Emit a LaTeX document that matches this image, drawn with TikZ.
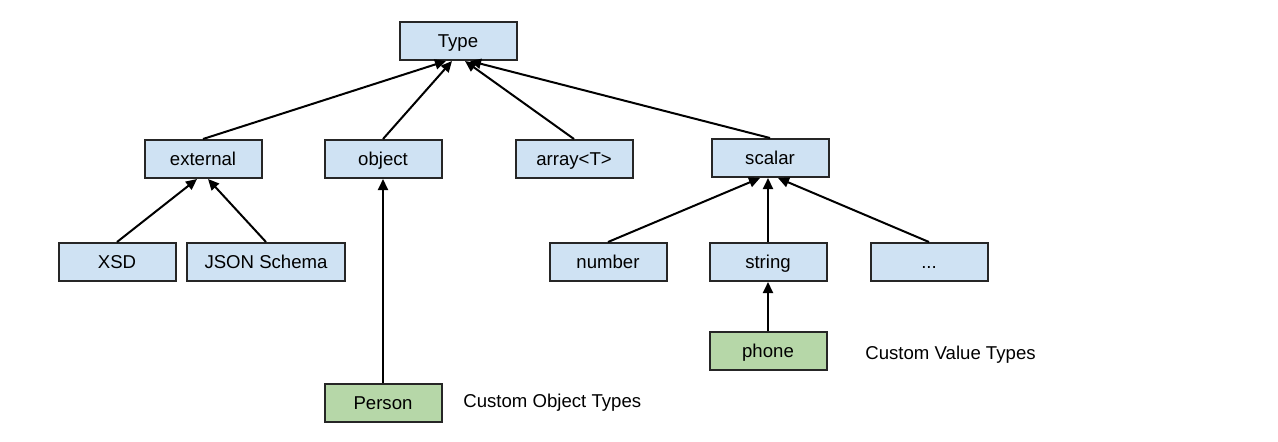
\documentclass[tikz,border=0pt]{standalone}
\usepackage{fontspec}
\setmainfont{Liberation Sans}
\usepackage{tikz}
\usetikzlibrary{arrows.meta}
\definecolor{boxblue}{HTML}{CFE2F3}
\definecolor{boxgreen}{HTML}{B6D7A8}
\tikzset{
  tbox/.style={draw=black!85, line width=1pt, fill=boxblue, minimum width=58.5pt,
    minimum height=19pt, inner sep=0pt, text height=7.4pt, text depth=1pt,
    font=\fontsize{9.3}{11}\selectfont},
  cbox/.style={tbox, fill=boxgreen},
  note/.style={anchor=west, inner sep=0pt, font=\fontsize{9.3}{11}\selectfont},
  isa/.style={line width=1pt, -{Triangle[length=5.5pt,width=5pt]}}
}

\begin{document}
\begin{tikzpicture}[x=0.5pt, y=-0.5pt]
        \useasboundingbox (0,0) rectangle (1278,441);
        % root
        \node[tbox] (type) at (458,41) {Type};
        % row 2
        \node[tbox] (external) at (203,159) {external};
        \node[tbox] (object) at (383,159) {object};
        \node[tbox] (array) at (574,159) {array<T>};
        \node[tbox] (scalar) at (770,158) {scalar};
        % row 3
        \node[tbox] (xsd) at (117,262) {XSD};
        \node[tbox, minimum width=79pt] (jsonschema) at (266,262) {JSON Schema};
        \node[tbox] (number) at (608,262) {number};
        \node[tbox] (string) at (768,262) {string};
        \node[tbox] (more) at (929,262) {...};
        % custom types
        \node[cbox] (phone) at (768,351) {phone};
        \node[cbox] (person) at (383,403) {Person};
        \node[note] (valuenote) at (865,355) {Custom Value Types};
        \node[note] (objectnote) at (463,403) {Custom Object Types};
        % edges
        \draw[isa] (external.north) -- ([xshift=-6pt]type.south);
        \draw[isa] (object.north) -- ([xshift=-3pt]type.south);
        \draw[isa] (array.north) -- ([xshift=3.5pt]type.south);
        \draw[isa] (scalar.north) -- ([xshift=6pt]type.south);
        \draw[isa] (xsd.north) -- ([xshift=-3pt]external.south);
        \draw[isa] (jsonschema.north) -- ([xshift=2.5pt]external.south);
        \draw[isa] (number.north) -- ([xshift=-5pt]scalar.south);
        \draw[isa] (string.north) -- (string.north |- scalar.south);
        \draw[isa] (more.north) -- ([xshift=4pt]scalar.south);
        \draw[isa] (person.north) -- (object.south);
        \draw[isa] (phone.north) -- (string.south);
\end{tikzpicture}
\end{document}
